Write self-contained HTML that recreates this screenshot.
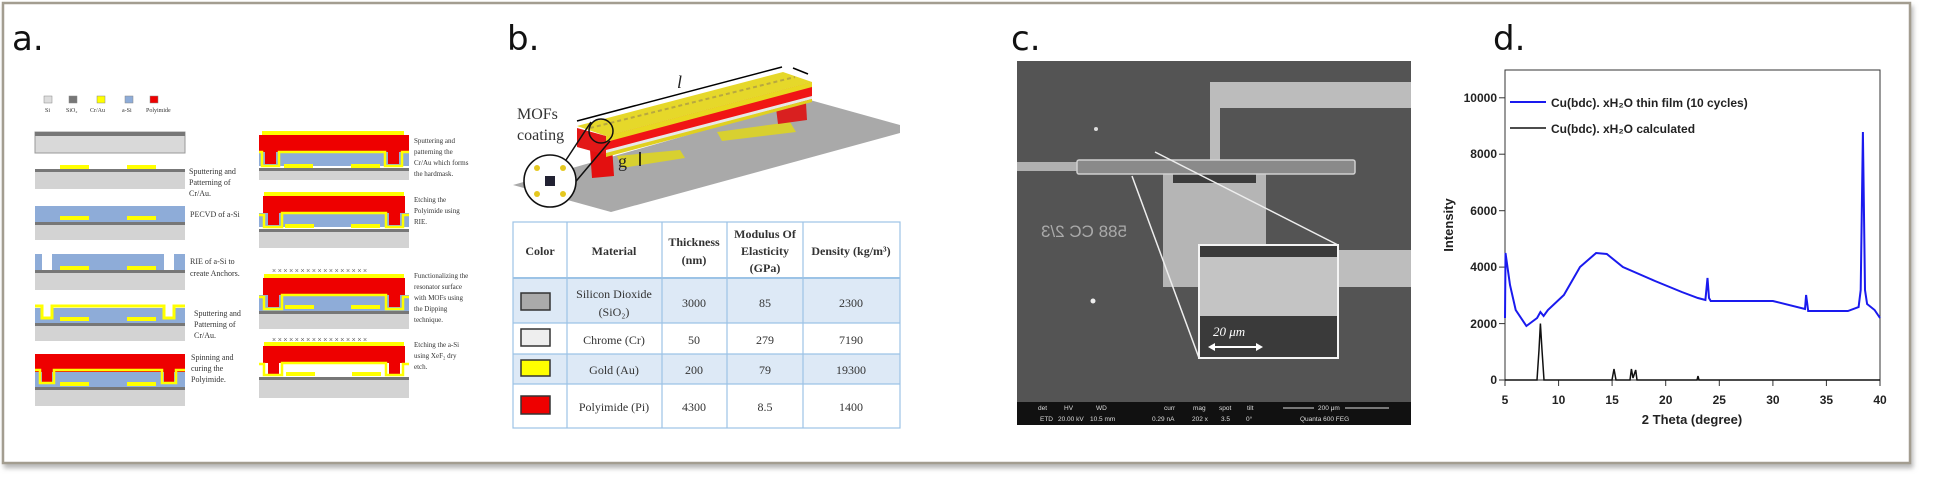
<!DOCTYPE html>
<html><head><meta charset="utf-8"><style>
html,body{margin:0;padding:0;background:#fff;width:1942px;height:479px;overflow:hidden}
svg{display:block}
.s{font-family:"Liberation Serif",serif;fill:#333}
.b{font-family:"Liberation Sans",sans-serif;font-weight:bold;fill:#222}
.lab{font-family:"DejaVu Sans","Liberation Sans",sans-serif;font-size:34px;fill:#111}
</style></head><body>
<svg width="1942" height="479" viewBox="0 0 1942 479" xmlns="http://www.w3.org/2000/svg">
<defs><filter id="sh" x="-5%" y="-5%" width="110%" height="115%"><feDropShadow dx="2" dy="4" stdDeviation="2.5" flood-color="#888" flood-opacity="0.6"/></filter></defs>
<rect x="3" y="3" width="1907" height="460" fill="#fff" stroke="#a39d90" stroke-width="2.5" filter="url(#sh)"/>

<text class="lab" x="12" y="50">a.</text>
<text class="lab" x="507" y="50">b.</text>
<text class="lab" x="1011" y="50">c.</text>
<text class="lab" x="1493" y="50">d.</text>

<g stroke="#888" stroke-width="0.5">
<rect x="44" y="96" width="8" height="7" fill="#ddd"/>
<rect x="69" y="96" width="8" height="7" fill="#777"/>
<rect x="97" y="96" width="8" height="7" fill="#ff0"/>
<rect x="125" y="96" width="8" height="7" fill="#8eacd8"/>
<rect x="150" y="96" width="8" height="7" fill="#e00"/>
</g>
<g class="s" font-size="6"><text x="45" y="112">Si</text><text x="66" y="112">SiO₂</text><text x="90" y="112">Cr/Au</text><text x="122" y="112">a-Si</text><text x="146" y="112">Polyimide</text></g>

<g>
<rect x="35" y="132" width="150" height="21" fill="#d9d9d9" stroke="#999"/><rect x="35" y="132" width="150" height="4" fill="#777"/>

<rect x="60" y="165" width="29" height="4" fill="#ff0"/><rect x="127" y="165" width="29" height="4" fill="#ff0"/>
<rect x="35" y="169" width="150" height="3" fill="#777"/><rect x="35" y="172" width="150" height="17" fill="#d3d3d3"/>

<rect x="35" y="206" width="150" height="16" fill="#8eacd8"/><rect x="60" y="216" width="29" height="4" fill="#ff0"/><rect x="127" y="216" width="29" height="4" fill="#ff0"/>
<rect x="35" y="222" width="150" height="3" fill="#777"/><rect x="35" y="225" width="150" height="15" fill="#d3d3d3"/>

<rect x="35" y="254" width="150" height="16" fill="#8eacd8"/><rect x="42" y="254" width="10" height="16" fill="#fff"/><rect x="164" y="254" width="10" height="16" fill="#fff"/>
<rect x="60" y="266" width="29" height="4" fill="#ff0"/><rect x="127" y="266" width="29" height="4" fill="#ff0"/>
<rect x="35" y="270" width="150" height="3" fill="#777"/><rect x="35" y="273" width="150" height="17" fill="#d3d3d3"/>

<rect x="35" y="308" width="150" height="16" fill="#8eacd8"/>
<rect x="42" y="307" width="10" height="11" fill="#fff"/><rect x="164" y="307" width="10" height="11" fill="#fff"/>
<path d="M35,306 H42 V318 H52 V306 H164 V318 H174 V306 H185" fill="none" stroke="#ff0" stroke-width="3"/>
<rect x="60" y="317" width="29" height="4" fill="#ff0"/><rect x="127" y="317" width="29" height="4" fill="#ff0"/>
<rect x="35" y="323" width="150" height="3" fill="#777"/><rect x="35" y="326" width="150" height="15" fill="#d3d3d3"/>

<rect x="35" y="354" width="150" height="18" fill="#e00"/>
<rect x="35" y="372" width="150" height="16" fill="#8eacd8"/>
<rect x="42" y="370" width="10" height="12" fill="#e00"/><rect x="164" y="370" width="10" height="12" fill="#e00"/>
<path d="M35,370 H40 V383 H54 V370 H162 V383 H176 V370 H185" fill="none" stroke="#ff0" stroke-width="2.5"/>
<rect x="60" y="382" width="29" height="4" fill="#ff0"/><rect x="127" y="382" width="29" height="4" fill="#ff0"/>
<rect x="35" y="387" width="150" height="3" fill="#777"/><rect x="35" y="390" width="150" height="16" fill="#d3d3d3"/>
</g>
<g class="s" font-size="8">
<text x="189" y="174">Sputtering and</text><text x="189" y="185">Patterning of</text><text x="189" y="196">Cr/Au.</text>
<text x="190" y="217">PECVD of a-Si</text>
<text x="190" y="264">RIE of a-Si to</text><text x="190" y="276">create Anchors.</text>
<text x="194" y="316">Sputtering and</text><text x="194" y="327">Patterning of</text><text x="194" y="338">Cr/Au.</text>
<text x="191" y="360">Spinning and</text><text x="191" y="371">curing the</text><text x="191" y="382">Polyimide.</text>
</g>

<g>
<rect x="262" y="131" width="142" height="4" fill="#ff0"/>
<rect x="259" y="135" width="150" height="17" fill="#e00"/>
<rect x="259" y="152" width="150" height="14" fill="#8eacd8"/>
<rect x="265" y="150" width="11" height="14" fill="#e00"/><rect x="388" y="150" width="11" height="14" fill="#e00"/>
<path d="M259,152 H262 V166 H279 V152 H385 V166 H402 V152 H409" fill="none" stroke="#ff0" stroke-width="2.5"/>
<rect x="284" y="164" width="29" height="4" fill="#ff0"/><rect x="351" y="164" width="29" height="4" fill="#ff0"/>
<rect x="259" y="168" width="150" height="3" fill="#777"/><rect x="259" y="171" width="150" height="9" fill="#d3d3d3"/>

<rect x="264" y="192" width="140" height="4" fill="#ff0"/>
<rect x="263" y="196" width="142" height="17" fill="#e00"/>
<rect x="259" y="213" width="150" height="14" fill="#8eacd8"/>
<rect x="268" y="211" width="11" height="14" fill="#e00"/><rect x="389" y="211" width="11" height="14" fill="#e00"/>
<path d="M259,215 H264 V227 H282 V213 H386 V227 H403 V215 H409" fill="none" stroke="#ff0" stroke-width="2.5"/>
<rect x="285" y="224" width="29" height="4" fill="#ff0"/><rect x="351" y="224" width="29" height="4" fill="#ff0"/>
<rect x="259" y="229" width="150" height="3" fill="#777"/><rect x="259" y="232" width="150" height="16" fill="#d3d3d3"/>

<text x="272" y="273" font-size="7" fill="#666" font-family="Liberation Sans,sans-serif" letter-spacing="1.6">×××××××××××××××××</text>
<rect x="264" y="274" width="140" height="4" fill="#ff0"/>
<rect x="263" y="278" width="142" height="17" fill="#e00"/>
<rect x="259" y="295" width="150" height="16" fill="#8eacd8"/>
<rect x="268" y="293" width="11" height="14" fill="#e00"/><rect x="389" y="293" width="11" height="14" fill="#e00"/>
<path d="M259,297 H264 V309 H282 V295 H386 V309 H403 V297 H409" fill="none" stroke="#ff0" stroke-width="2.5"/>
<rect x="285" y="305" width="29" height="4" fill="#ff0"/><rect x="351" y="305" width="29" height="4" fill="#ff0"/>
<rect x="259" y="311" width="150" height="3" fill="#777"/><rect x="259" y="314" width="150" height="15" fill="#d3d3d3"/>

<text x="272" y="342" font-size="7" fill="#666" font-family="Liberation Sans,sans-serif" letter-spacing="1.6">×××××××××××××××××</text>
<rect x="264" y="342" width="140" height="4" fill="#ff0"/>
<rect x="263" y="346" width="142" height="17" fill="#e00"/>
<rect x="268" y="361" width="11" height="14" fill="#e00"/><rect x="389" y="361" width="11" height="14" fill="#e00"/>
<path d="M259,364 H264 V375 H282 V363 H386 V375 H403 V364 H409" fill="none" stroke="#ff0" stroke-width="2.5"/>
<rect x="286" y="372" width="29" height="4" fill="#ff0"/><rect x="352" y="372" width="29" height="4" fill="#ff0"/>
<rect x="259" y="377" width="150" height="3" fill="#777"/><rect x="259" y="380" width="150" height="18" fill="#d3d3d3"/>
</g>
<g class="s" font-size="7">
<text x="414" y="143">Sputtering and</text><text x="414" y="154">patterning the</text><text x="414" y="165">Cr/Au which forms</text><text x="414" y="176">the hardmask.</text>
<text x="414" y="202">Etching the</text><text x="414" y="213">Polyimide using</text><text x="414" y="224">RIE.</text>
<text x="414" y="278">Functionalizing the</text><text x="414" y="289">resonator surface</text><text x="414" y="300">with MOFs using</text><text x="414" y="311">the Dipping</text><text x="414" y="322">technique.</text>
<text x="414" y="347">Etching the a-Si</text><text x="414" y="358">using XeF₂ dry</text><text x="414" y="369">etch.</text>
</g>

<!-- PANEL B 3D -->
<polygon points="513,185 810,100 900,125 900,133 611,212" fill="#a9a9a9"/>
<polygon points="717,132 790,122 796,132 722,141" fill="#d8d030"/>
<polygon points="617,156 680,150 685,158 622,168" fill="#d8d030"/>
<polygon points="776,108 806,103 807,120 778,124" fill="#d92020"/>
<polygon points="590,150 612,146 614,176 592,178" fill="#e31010"/>
<polygon points="577,128 606,136 606,155 577,147" fill="#e31818"/>
<polygon points="606,136 812,82 812,100 606,155" fill="#f01515"/>
<polygon points="606,150 812,96 812,99 606,154" fill="#e8e8e8"/>
<polygon points="606,153 812,99 812,102 606,157" fill="#e0d020"/>
<polygon points="606,136 812,82 812,87 606,142" fill="#e8d820"/>
<polygon points="577,126 783,72 812,82 606,136" fill="#e6d82a"/>
<line x1="590" y1="128" x2="795" y2="77" stroke="#b8a840" stroke-width="2" stroke-dasharray="4,3"/>
<line x1="577" y1="121" x2="782" y2="67" stroke="#000" stroke-width="1.5"/>
<line x1="793" y1="68" x2="808" y2="74" stroke="#000" stroke-width="1.5"/>
<text x="677" y="88" font-family="Liberation Serif,serif" font-style="italic" font-size="18" fill="#222">l</text>
<text x="618" y="167" font-family="Liberation Serif,serif" font-size="18" fill="#222">g</text>
<line x1="640" y1="152" x2="640" y2="166" stroke="#000" stroke-width="1.5"/>
<text class="s" x="517" y="119" font-size="16" fill="#333">MOFs</text>
<text class="s" x="517" y="140" font-size="16" fill="#333">coating</text>
<circle cx="601" cy="131" r="12" fill="none" stroke="#111" stroke-width="1.5"/>
<line x1="566" y1="160" x2="591" y2="122" stroke="#111" stroke-width="1.5"/>
<line x1="572" y1="186" x2="610" y2="141" stroke="#111" stroke-width="1.5"/>
<circle cx="550" cy="181" r="26" fill="#fff" stroke="#111" stroke-width="1.6"/>
<rect x="545" y="176" width="10" height="10" fill="#223"/>
<g fill="#e5c820"><circle cx="537" cy="168" r="3"/><circle cx="563" cy="168" r="3"/><circle cx="537" cy="194" r="3"/><circle cx="563" cy="194" r="3"/></g>

<rect x="513" y="278" width="387" height="45" fill="#dde9f6"/>
<rect x="513" y="354" width="387" height="30" fill="#dde9f6"/>
<g stroke="#9cc3e6" stroke-width="1.2" fill="none">
<rect x="513" y="222" width="387" height="206"/>
<line x1="567" y1="222" x2="567" y2="428"/><line x1="662" y1="222" x2="662" y2="428"/><line x1="727" y1="222" x2="727" y2="428"/><line x1="803" y1="222" x2="803" y2="428"/>
<line x1="513" y1="278" x2="900" y2="278" stroke-width="2"/><line x1="513" y1="323" x2="900" y2="323"/><line x1="513" y1="354" x2="900" y2="354"/><line x1="513" y1="384" x2="900" y2="384"/>
</g>
<g stroke="#333" stroke-width="1.5"><rect x="521" y="293" width="29" height="17" fill="#aaa"/><rect x="521" y="329" width="29" height="17" fill="#eee"/><rect x="521" y="360" width="29" height="16" fill="#ff0"/><rect x="521" y="396" width="29" height="18" fill="#e00"/></g>
<g font-family="Liberation Serif,serif" font-size="12" fill="#333" text-anchor="middle">
<text x="540" y="255" font-weight="bold">Color</text>
<text x="614" y="255" font-weight="bold">Material</text>
<text x="694" y="246" font-weight="bold">Thickness</text><text x="694" y="264" font-weight="bold">(nm)</text>
<text x="765" y="238" font-weight="bold">Modulus Of</text><text x="765" y="255" font-weight="bold">Elasticity</text><text x="765" y="272" font-weight="bold">(GPa)</text>
<text x="851" y="255" font-weight="bold">Density (kg/m³)</text>
<text x="614" y="298">Silicon Dioxide</text><text x="614" y="316">(SiO₂)</text>
<text x="694" y="307">3000</text><text x="765" y="307">85</text><text x="851" y="307">2300</text>
<text x="614" y="344">Chrome (Cr)</text><text x="694" y="344">50</text><text x="765" y="344">279</text><text x="851" y="344">7190</text>
<text x="614" y="374">Gold (Au)</text><text x="694" y="374">200</text><text x="765" y="374">79</text><text x="851" y="374">19300</text>
<text x="614" y="411">Polyimide (Pi)</text><text x="694" y="411">4300</text><text x="765" y="411">8.5</text><text x="851" y="411">1400</text>
</g>

<!-- PANEL C SEM -->
<rect x="1017" y="61" width="394" height="364" fill="#545454"/>
<rect x="1210" y="82" width="201" height="26" fill="#bcbcbc"/>
<rect x="1210" y="82" width="10" height="78" fill="#bcbcbc"/>
<rect x="1017" y="162" width="70" height="9" fill="#b0b0b0"/>
<rect x="1163" y="172" width="103" height="115" fill="#b5b5b5"/>
<rect x="1173" y="172" width="83" height="11" fill="#3c3c3c"/>
<rect x="1338" y="250" width="73" height="37" fill="#bdbdbd"/>
<rect x="1077" y="160" width="278" height="14" rx="2" fill="#8a8a8a" stroke="#d0d0d0" stroke-width="1.5"/>
<line x1="1132" y1="176" x2="1199" y2="358" stroke="#eee" stroke-width="1.5"/>
<line x1="1155" y1="152" x2="1338" y2="245" stroke="#eee" stroke-width="1.5"/>
<rect x="1199" y="245" width="139" height="113" fill="#3a3a3a" stroke="#f4f4f4" stroke-width="2"/>
<rect x="1200" y="257" width="137" height="59" fill="#c4c4c4"/>
<text x="1213" y="336" font-family="Liberation Serif,serif" font-style="italic" font-size="13" fill="#fff">20 μm</text>
<line x1="1210" y1="347" x2="1261" y2="347" stroke="#fff" stroke-width="2"/>
<path d="M1208,347 l7,-4 v8 z M1263,347 l-7,-4 v8 z" fill="#fff"/>
<circle cx="1096" cy="129" r="2" fill="#ddd"/><circle cx="1093" cy="301" r="2.5" fill="#eee"/>
<text transform="translate(1127,237) scale(-1,1)" font-family="Liberation Sans,sans-serif" font-size="17" fill="#aaa">588 CC 2/3</text>
<rect x="1017" y="402" width="394" height="23" fill="#111"/>
<g font-family="Liberation Sans,sans-serif" font-size="6.5" fill="#ddd">
<text x="1038" y="410">det</text><text x="1040" y="421">ETD</text>
<text x="1064" y="410">HV</text><text x="1058" y="421">20.00 kV</text>
<text x="1096" y="410">WD</text><text x="1090" y="421">10.5 mm</text>
<text x="1164" y="410">curr</text><text x="1152" y="421">0.29 nA</text>
<text x="1193" y="410">mag</text><text x="1192" y="421">202 x</text>
<text x="1219" y="410">spot</text><text x="1221" y="421">3.5</text>
<text x="1247" y="410">tilt</text><text x="1246" y="421">0°</text>
<text x="1318" y="410">200 μm</text><text x="1300" y="421">Quanta 600 FEG</text>
</g>
<line x1="1283" y1="408" x2="1314" y2="408" stroke="#ddd"/><line x1="1345" y1="408" x2="1389" y2="408" stroke="#ddd"/>

<!-- PANEL D plot -->
<rect x="1505" y="70" width="375" height="310" fill="none" stroke="#333" stroke-width="1"/>
<g stroke="#333" stroke-width="1">
<line x1="1505" y1="380" x2="1505" y2="386"/><line x1="1558.6" y1="380" x2="1558.6" y2="386"/><line x1="1612.1" y1="380" x2="1612.1" y2="386"/><line x1="1665.7" y1="380" x2="1665.7" y2="386"/><line x1="1719.3" y1="380" x2="1719.3" y2="386"/><line x1="1772.9" y1="380" x2="1772.9" y2="386"/><line x1="1826.4" y1="380" x2="1826.4" y2="386"/><line x1="1880" y1="380" x2="1880" y2="386"/>
<line x1="1499" y1="380" x2="1505" y2="380"/><line x1="1499" y1="323.6" x2="1505" y2="323.6"/><line x1="1499" y1="267.1" x2="1505" y2="267.1"/><line x1="1499" y1="210.7" x2="1505" y2="210.7"/><line x1="1499" y1="154.2" x2="1505" y2="154.2"/><line x1="1499" y1="97.8" x2="1505" y2="97.8"/>
</g>
<g class="b" font-size="12" text-anchor="end">
<text x="1497" y="384">0</text><text x="1497" y="328">2000</text><text x="1497" y="271">4000</text><text x="1497" y="215">6000</text><text x="1497" y="158">8000</text><text x="1497" y="102">10000</text>
</g>
<g class="b" font-size="12" text-anchor="middle">
<text x="1505" y="404">5</text><text x="1558.6" y="404">10</text><text x="1612.1" y="404">15</text><text x="1665.7" y="404">20</text><text x="1719.3" y="404">25</text><text x="1772.9" y="404">30</text><text x="1826.4" y="404">35</text><text x="1880" y="404">40</text>
<text x="1692" y="424" font-size="13">2 Theta (degree)</text>
<text transform="translate(1453,225) rotate(-90)" font-size="13">Intensity</text>
</g>
<path d="M1505,318 L1505.5,253 L1510,285 L1515.7,310 L1526.4,326 L1537.1,318 L1540.4,312 L1543.6,316 L1547.9,310 L1563.9,295 L1580,267 L1596.1,253 L1606.8,254 L1622.9,267 L1655,281 L1681.8,292 L1697.9,298 L1705.4,300 L1707.5,278 L1709,298 L1710.7,301 L1740.7,301 L1772.9,301 L1805,309 L1806.1,295 L1808.2,311 L1826.4,311 L1847.9,311 L1858.6,307 L1860.7,290 L1862.9,132 L1865,290 L1867.1,304 L1874.6,310 L1880,318" fill="none" stroke="#1a1aee" stroke-width="2"/>
<path d="M1505,380 L1537,380 L1539,350 L1540.4,323.6 L1542,350 L1544,380 L1612,380 L1614,369 L1616,380 L1630,380 L1631.4,369 L1633,378 L1635.7,370 L1637,380 L1697,380 L1698,376 L1699,380 L1880,380" fill="none" stroke="#111" stroke-width="1.5"/>
<line x1="1510" y1="102" x2="1546" y2="102" stroke="#1a1aee" stroke-width="2"/>
<line x1="1510" y1="128" x2="1546" y2="128" stroke="#111" stroke-width="1.5"/>
<text class="b" x="1551" y="107" font-size="12">Cu(bdc). xH₂O thin film (10 cycles)</text>
<text class="b" x="1551" y="133" font-size="12">Cu(bdc). xH₂O calculated</text>
</svg>
</body></html>
